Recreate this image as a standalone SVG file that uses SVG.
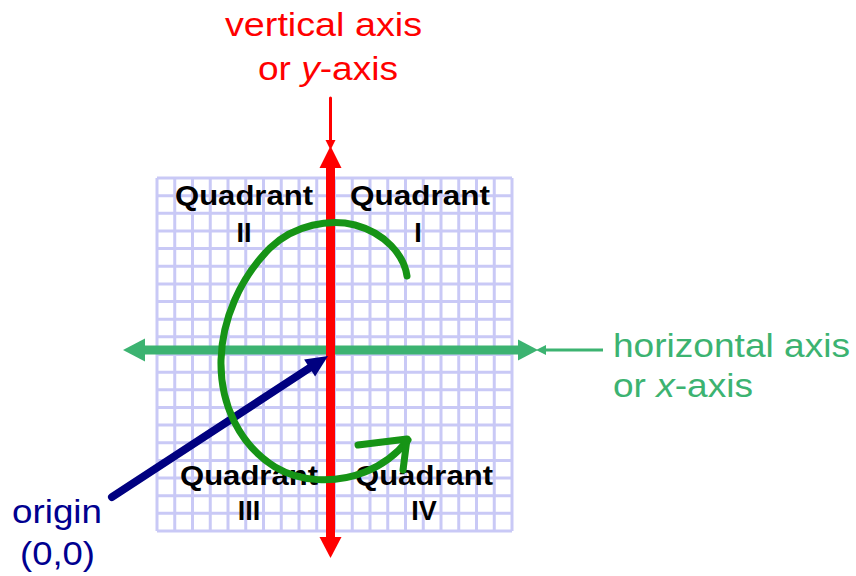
<svg xmlns="http://www.w3.org/2000/svg" width="856" height="576" viewBox="0 0 856 576">
<style>
.lbl{font-family:"Liberation Sans",Arial,sans-serif;font-size:34px}
.q{font-family:"Liberation Sans",Arial,sans-serif;font-size:27px;font-weight:bold;fill:#000;text-anchor:middle}
.grid{stroke:#c9c9f6;stroke-width:3;fill:none}
</style>
<rect width="856" height="576" fill="#fff"/>
<g id="grid">
<path class="grid" d="M157,178V531M174.75,178V531M192.5,178V531M210.25,178V531M228,178V531M245.75,178V531M263.5,178V531M281.25,178V531M299,178V531M316.75,178V531M334.5,178V531M352.25,178V531M370,178V531M387.75,178V531M405.5,178V531M423.25,178V531M441,178V531M458.75,178V531M476.5,178V531M494.25,178V531M512,178V531
M157,178H512M157,195.65H512M157,213.3H512M157,230.95H512M157,248.6H512M157,266.25H512M157,283.9H512M157,301.55H512M157,319.2H512M157,336.85H512M157,354.5H512M157,372.15H512M157,389.8H512M157,407.45H512M157,425.1H512M157,442.75H512M157,460.4H512M157,478.05H512M157,495.7H512M157,513.35H512M157,531H512"/>
</g>
<g id="quadrant-2"><text class="q" x="244" y="205" textLength="138" lengthAdjust="spacingAndGlyphs">Quadrant</text><text class="q" x="244" y="242">II</text></g>
<g id="quadrant-1"><text class="q" x="420" y="205" textLength="140" lengthAdjust="spacingAndGlyphs">Quadrant</text><text class="q" x="418" y="242">I</text></g>
<g id="quadrant-3"><text class="q" x="249" y="485" textLength="138" lengthAdjust="spacingAndGlyphs">Quadrant</text><text class="q" x="249" y="520">III</text></g>
<g id="quadrant-4"><text class="q" x="424" y="485" textLength="138" lengthAdjust="spacingAndGlyphs">Quadrant</text><text class="q" x="424" y="520">IV</text></g>
<g id="x-axis">
<line x1="143" y1="350" x2="521" y2="350" stroke="#3cb371" stroke-width="9"/>
<polygon points="123,350 145,338.5 145,361.5" fill="#3cb371"/>
<polygon points="538,350 518,339.5 518,360.5" fill="#3cb371"/>
</g>
<g id="y-axis">
<line x1="330.5" y1="166" x2="330.5" y2="539" stroke="#ff0000" stroke-width="9"/>
<polygon points="330.5,146 319.5,168 341.5,168" fill="#ff0000"/>
<polygon points="330.5,558 319.5,537 341.5,537" fill="#ff0000"/>
</g>
<g id="connectors">
<line x1="330.5" y1="98" x2="330.5" y2="142" stroke="#ff0000" stroke-width="3" stroke-linecap="round"/>
<polygon points="325.5,140 335.5,140 330.5,150" fill="#ff0000"/>
<line x1="544" y1="350" x2="603" y2="350" stroke="#3cb371" stroke-width="3"/>
<polygon points="536,350 546,345 546,355" fill="#3cb371"/>
<line x1="112" y1="497" x2="311" y2="367" stroke="#000080" stroke-width="8" stroke-linecap="round"/>
<polygon points="328,356 304.1,359.6 315.1,376.4" fill="#000080"/>
</g>
<g id="rotation" fill="none" stroke="#169416" stroke-width="7" stroke-linecap="round" stroke-linejoin="round">
<path d="M407,276 C404,255 385,233 355,225 C330,219 295,224 270,248 C240,278 222,320 221,360 C220,405 240,445 275,467 C300,482 335,484 365,472 C385,464 400,450 408,440"/>
<path d="M358,445 L407,439 L403,470"/>
</g>
<g id="y-label" class="lbl" fill="#ff0000" text-anchor="middle">
<text x="323.5" y="36" textLength="197" lengthAdjust="spacingAndGlyphs">vertical axis</text>
<text x="328" y="80" textLength="140" lengthAdjust="spacingAndGlyphs">or <tspan font-style="italic">y</tspan>-axis</text>
</g>
<g id="x-label" class="lbl" fill="#3cb371">
<text x="613" y="357" textLength="237" lengthAdjust="spacingAndGlyphs">horizontal axis</text>
<text x="613" y="397" textLength="140" lengthAdjust="spacingAndGlyphs">or <tspan font-style="italic">x</tspan>-axis</text>
</g>
<g id="origin-label" class="lbl" fill="#000090" text-anchor="middle">
<text x="57" y="523" textLength="90" lengthAdjust="spacingAndGlyphs">origin</text>
<text x="57.5" y="565" textLength="75" lengthAdjust="spacingAndGlyphs">(0,0)</text>
</g>
</svg>
